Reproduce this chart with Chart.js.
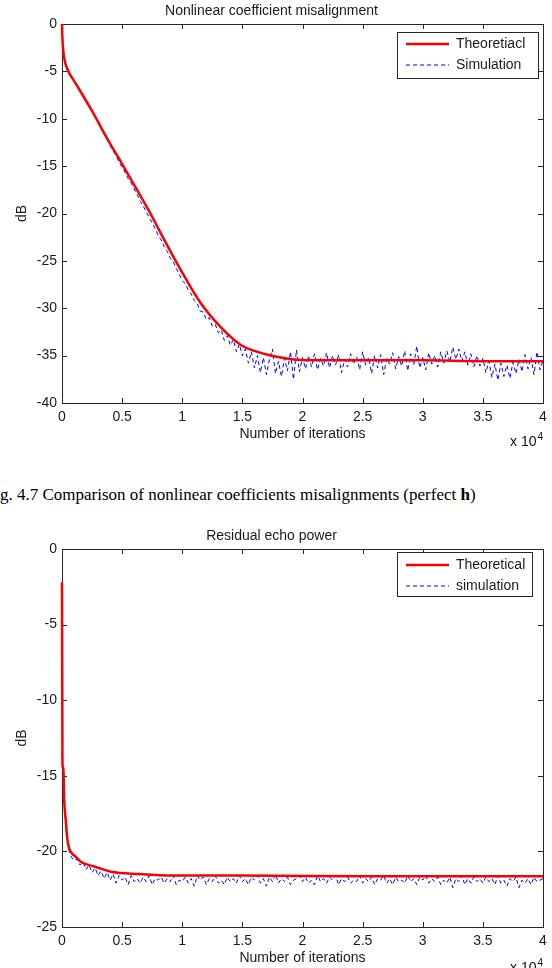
<!DOCTYPE html>
<html>
<head>
<meta charset="utf-8">
<script src="https://cdn.jsdelivr.net/npm/chart.js@4.4.0/dist/chart.umd.min.js"></script>
<style>
    html, body { margin: 0; padding: 0; background: #fff; width: 552px; height: 968px; overflow: hidden; }
    #page { position: relative; width: 552px; height: 968px; }
    canvas { position: absolute; left: 0; }
    #c1 { top: 0; }
    #c2 { top: 515px; }
    .exp { position: absolute; font: 14px "Liberation Sans", Arial, sans-serif; color: #111; line-height: 16px; white-space: nowrap; }
    .exp span { position: relative; top: -6px; font-size: 10px; margin-left: 1px; }
    #caption { position: absolute; left: 0; top: 485px; font: 17px "Liberation Serif", "Times New Roman", serif; line-height: 20px; color: #000; white-space: nowrap; }
</style>
</head>
<body>
<div id="page">
    <canvas id="c1" width="552" height="452"></canvas>
    <div class="exp" style="left:510px;top:433px;">x 10<span>4</span></div>
    <div id="caption">g. 4.7 Comparison of nonlinear coefficients misalignments (perfect <b>h</b>)</div>
    <canvas id="c2" width="552" height="453"></canvas>
    <div class="exp" style="left:510px;top:959px;">x 10<span>4</span></div>
</div>
<script>
// tick labels
var xTicks = [0, 0.5, 1, 1.5, 2, 2.5, 3, 3.5, 4];
var misYTicks = [0, -5, -10, -15, -20, -25, -30, -35, -40];
var echoYTicks = [0, -5, -10, -15, -20, -25];

// common sample grid (x 10^4 iterations) for the simulated curves
var simGrid = [
    0.1, 0.125, 0.15, 0.175, 0.2, 0.225, 0.25, 0.275, 0.3, 0.325, 0.35, 0.375, 0.4, 0.425, 0.45, 0.475,
    0.5, 0.525, 0.55, 0.575, 0.6, 0.625, 0.65, 0.675, 0.7, 0.725, 0.75, 0.775, 0.8, 0.825, 0.85, 0.875, 0.9, 0.925, 0.95, 0.975,
    1.0, 1.025, 1.05, 1.075, 1.1, 1.125, 1.15, 1.175, 1.2, 1.225, 1.25, 1.275, 1.3, 1.325, 1.35, 1.375, 1.4, 1.425, 1.45, 1.475,
    1.5, 1.525, 1.55, 1.575, 1.6, 1.625, 1.65, 1.675, 1.7, 1.725, 1.75, 1.775, 1.8, 1.825, 1.85, 1.875, 1.9, 1.925, 1.95, 1.975,
    2.0, 2.025, 2.05, 2.075, 2.1, 2.125, 2.15, 2.175, 2.2, 2.225, 2.25, 2.275, 2.3, 2.325, 2.35, 2.375, 2.4, 2.425, 2.45, 2.475,
    2.5, 2.525, 2.55, 2.575, 2.6, 2.625, 2.65, 2.675, 2.7, 2.725, 2.75, 2.775, 2.8, 2.825, 2.85, 2.875, 2.9, 2.925, 2.95, 2.975,
    3.0, 3.025, 3.05, 3.075, 3.1, 3.125, 3.15, 3.175, 3.2, 3.225, 3.25, 3.275, 3.3, 3.325, 3.35, 3.375, 3.4, 3.425, 3.45, 3.475,
    3.5, 3.525, 3.55, 3.575, 3.6, 3.625, 3.65, 3.675, 3.7, 3.725, 3.75, 3.775, 3.8, 3.825, 3.85, 3.875, 3.9, 3.925, 3.95, 3.975,
    4.0
];

// Nonlinear coefficient misalignment
var misTheoryX = [0, 0.002, 0.006, 0.017, 0.05, 0.1, 0.134, 0.246, 0.385, 0.497, 0.61, 0.748, 0.818, 0.985, 1.15, 1.32, 1.49, 1.6, 1.71, 1.82, 1.93, 2.16, 2.5, 3, 3.5, 4];
var misTheoryY = [0, -1.0, -2.1, -3.5, -4.9, -6.0, -6.7, -9.1, -12.3, -14.7, -17.2, -20.3, -22.0, -25.9, -29.4, -32.0, -33.9, -34.5, -34.9, -35.2, -35.4, -35.5, -35.5, -35.5, -35.6, -35.6];
var misSimHeadX = [0, 0.002, 0.006, 0.017, 0.05, 0.075];
var misSimHeadY = [0, -1.0, -2.1, -3.6, -5.0, -5.5];
var misSimY = [
    -6.0, -6.5, -7.1, -7.6, -8.1, -8.7, -9.2, -9.8, -10.4, -11.0, -11.6, -12.2, -12.8, -13.4, -13.9, -14.6,
    -15.1, -15.7, -16.3, -16.8, -17.4, -18.0, -18.7, -19.2, -19.8, -20.4, -21.0, -21.6, -22.3, -22.8, -23.5, -24.0, -24.7, -25.1, -25.8, -26.4,
    -27.1, -27.4, -28.1, -28.5, -29.2, -29.5, -30.3, -30.4, -31.2, -31.0, -31.9, -31.7, -32.6, -32.3, -33.4, -32.9, -33.9, -33.3, -34.6, -33.8,
    -35.0, -34.3, -35.8, -34.6, -36.3, -35.0, -36.8, -35.2, -37.0, -35.4, -34.3, -36.9, -35.6, -37.2, -35.3, -36.6, -34.6, -37.5, -34.4, -36.7,
    -35.2, -36.4, -35.0, -36.2, -34.8, -36.5, -35.3, -36.1, -34.7, -36.3, -35.0, -36.0, -34.9, -36.8, -35.4, -36.2, -34.8, -35.9, -35.1, -36.5,
    -34.6, -36.0, -35.2, -36.9, -35.0, -36.3, -34.9, -37.0, -35.3, -35.9, -34.7, -36.4, -35.1, -36.1, -34.5, -36.6, -34.8, -36.0, -34.0, -36.3,
    -35.2, -36.5, -34.7, -35.9, -35.0, -36.2, -34.6, -35.8, -34.5, -35.7, -34.1, -35.4, -34.3, -35.6, -34.6, -36.0, -34.8, -36.2, -35.0, -36.1,
    -35.3, -36.8, -35.6, -37.3, -35.9, -37.6, -35.8, -37.2, -36.0, -37.4, -35.7, -36.9, -35.4, -36.7, -34.9, -36.4, -35.2, -37.0, -34.6, -36.5,
    -35.5
];

// Residual echo power
var echoTheoryX = [0, 0.004, 0.012, 0.018, 0.03, 0.045, 0.06, 0.08, 0.12, 0.16, 0.27, 0.41, 0.64, 0.92, 1.5, 2.5, 4];
var echoTheoryY = [-2.2, -14.3, -14.5, -16.5, -17.8, -19.2, -19.8, -20.1, -20.4, -20.7, -21.0, -21.35, -21.5, -21.6, -21.6, -21.65, -21.65];
var echoSimHeadX = [0, 0.004, 0.01, 0.02, 0.03, 0.045, 0.06, 0.08];
var echoSimHeadY = [-13.4, -14.6, -15.5, -17.0, -18.2, -19.5, -20.0, -20.4];
var echoSimY = [
    -20.6, -20.5, -20.9, -20.7, -21.2, -20.9, -21.4, -21.1, -21.6, -21.3, -21.8, -21.4, -21.9, -21.5, -22.1, -21.6,
    -21.9, -21.7, -22.2, -21.6, -22.0, -21.8, -22.1, -21.7, -22.0, -21.6, -22.2, -21.8, -21.9, -21.7, -22.1, -21.8, -22.0, -21.6, -22.2, -21.9,
    -22.0, -21.7, -22.1, -21.8, -22.3, -21.6, -21.9, -21.7, -22.2, -21.8, -22.0, -21.6, -22.1, -21.9, -22.2, -21.7, -22.0, -21.8, -22.1, -21.6,
    -22.0, -21.8, -22.2, -21.7, -21.9, -21.6, -22.1, -21.8, -22.3, -21.7, -22.0, -21.5, -22.1, -21.8, -22.0, -21.7, -22.2, -21.9, -21.8, -21.6,
    -22.0, -21.7, -22.1, -21.9, -22.2, -21.6, -22.0, -21.8, -22.1, -21.7, -21.9, -21.6, -22.2, -21.8, -22.0, -21.7, -22.1, -21.9, -22.0, -21.6,
    -22.1, -21.8, -22.0, -21.7, -22.2, -21.8, -21.9, -21.6, -22.1, -21.8, -22.2, -21.7, -22.0, -21.9, -22.1, -21.6, -22.0, -21.8, -22.2, -21.7,
    -21.9, -21.6, -22.1, -21.8, -22.0, -21.7, -22.2, -21.9, -22.1, -21.7, -22.4, -21.8, -22.0, -21.6, -22.2, -21.8, -22.1, -21.7, -22.0, -21.8,
    -22.1, -21.7, -22.0, -21.8, -22.2, -21.6, -22.1, -21.9, -22.3, -21.8, -22.0, -21.7, -22.4, -21.9, -22.1, -21.8, -22.2, -21.7, -22.0, -21.9,
    -21.8
];

var FONT = '"Liberation Sans", Arial, sans-serif';
var INK = '#1a1a1a';

function toPoints(xs, ys) {
    return xs.map(function (x, i) { return { x: x, y: ys[i] }; });
}

// box + inward ticks on all four sides (matlab style)
var boxTicks = {
    id: 'boxTicks',
    beforeDatasetsDraw: function (chart) {
        var ctx = chart.ctx, a = chart.chartArea, x = chart.scales.x, y = chart.scales.y;
        var len = 5;
        ctx.save();
        ctx.strokeStyle = '#262626';
        ctx.lineWidth = 1;
        ctx.strokeRect(Math.round(a.left) + 0.5, Math.round(a.top) + 0.5, Math.round(a.right - a.left), Math.round(a.bottom - a.top));
        ctx.beginPath();
        x.ticks.forEach(function (t) {
            var px = Math.round(x.getPixelForValue(t.value)) + 0.5;
            ctx.moveTo(px, a.bottom); ctx.lineTo(px, a.bottom - len);
            ctx.moveTo(px, a.top); ctx.lineTo(px, a.top + len);
        });
        y.ticks.forEach(function (t) {
            var py = Math.round(y.getPixelForValue(t.value)) + 0.5;
            ctx.moveTo(a.left, py); ctx.lineTo(a.left + len, py);
            ctx.moveTo(a.right, py); ctx.lineTo(a.right - len, py);
        });
        ctx.stroke();
        ctx.restore();
    }
};

// legend box inside the plot
var boxLegend = {
    id: 'boxLegend',
    afterDraw: function (chart, args, o) {
        var ctx = chart.ctx;
        ctx.save();
        ctx.fillStyle = '#fff';
        ctx.fillRect(o.x, o.y, o.w, o.h);
        ctx.strokeStyle = '#262626';
        ctx.lineWidth = 1;
        ctx.strokeRect(o.x + 0.5, o.y + 0.5, o.w, o.h);
        chart.data.datasets.forEach(function (ds, i) {
            var cy = o.y + o.rows[i];
            ctx.beginPath();
            ctx.strokeStyle = ds.borderColor;
            ctx.lineWidth = ds.borderWidth;
            ctx.setLineDash(ds.borderDash || []);
            ctx.moveTo(o.x + 9, cy);
            ctx.lineTo(o.x + 52, cy);
            ctx.stroke();
            ctx.setLineDash([]);
            ctx.fillStyle = INK;
            ctx.font = '14px ' + FONT;
            ctx.textBaseline = 'middle';
            ctx.fillText(ds.label, o.x + 59, cy);
        });
        ctx.restore();
    }
};

function makeChart(id, cfg) {
    var canvas = document.getElementById(id);
    return new Chart(canvas, {
        type: 'line',
        data: {
            datasets: [
                {
                    label: cfg.labels[0],
                    data: toPoints(cfg.theoryX, cfg.theoryY),
                    borderColor: 'rgb(250,0,0)',
                    borderWidth: 2.5,
                    pointRadius: 0,
                    cubicInterpolationMode: 'monotone',
                    clip: 4,
                    order: 1
                },
                {
                    label: cfg.labels[1],
                    data: toPoints(cfg.simX, cfg.simY),
                    borderColor: '#0000ff',
                    borderWidth: 1,
                    borderDash: [4, 3],
                    pointRadius: 0,
                    tension: 0,
                    clip: 2,
                    order: 2
                }
            ]
        },
        options: {
            responsive: false,
            animation: false,
            layout: { padding: { left: 0, right: 9, top: 0, bottom: 0 } },
            plugins: {
                legend: { display: false },
                tooltip: { enabled: false },
                title: {
                    display: true,
                    text: cfg.title,
                    color: INK,
                    font: { family: FONT, size: 14, weight: 'normal' },
                    padding: cfg.titlePad
                },
                boxLegend: cfg.legend
            },
            scales: {
                x: {
                    type: 'linear',
                    min: 0, max: 4,
                    grid: { display: false, drawTicks: false },
                    border: { display: false },
                    afterBuildTicks: function (s) { s.ticks = xTicks.map(function (v) { return { value: v }; }); },
                    afterFit: function (s) { s.height = cfg.xHeight; s.paddingLeft = 0; s.paddingRight = 0; },
                    ticks: {
                        color: INK, font: { family: FONT, size: 14 }, padding: 6, maxRotation: 0, autoSkip: false,
                        callback: function (v) { return String(v); }
                    },
                    title: { display: true, text: 'Number of iterations', color: INK, font: { family: FONT, size: 14 }, padding: { top: 0, bottom: cfg.xTitlePad } }
                },
                y: {
                    min: cfg.yTicks[cfg.yTicks.length - 1], max: 0,
                    grid: { display: false, drawTicks: false },
                    border: { display: false },
                    afterBuildTicks: function (s) { s.ticks = cfg.yTicks.map(function (v) { return { value: v }; }); },
                    afterFit: function (s) { s.width = 62; },
                    ticks: {
                        color: INK, font: { family: FONT, size: 14 }, padding: 5, autoSkip: false,
                        callback: function (v) { return String(v); }
                    },
                    title: { display: true, text: 'dB', color: INK, font: { family: FONT, size: 14 }, padding: { top: 13.6, bottom: 0 } }
                }
            }
        },
        plugins: [boxTicks, boxLegend]
    });
}

makeChart('c1', {
    title: 'Nonlinear coefficient misalignment',
    labels: ['Theoretiacl', 'Simulation'],
    theoryX: misTheoryX, theoryY: misTheoryY,
    simX: misSimHeadX.concat(simGrid), simY: misSimHeadY.concat(misSimY),
    yTicks: misYTicks,
    titlePad: { top: 3, bottom: 4.2 },
    xHeight: 49, xTitlePad: 9.6,
    legend: { x: 397, y: 32, w: 141, h: 46, rows: [12, 33] }
});

makeChart('c2', {
    title: 'Residual echo power',
    labels: ['Theoretical', 'simulation'],
    theoryX: echoTheoryX, theoryY: echoTheoryY,
    simX: echoSimHeadX.concat(simGrid), simY: echoSimHeadY.concat(echoSimY),
    yTicks: echoYTicks,
    titlePad: { top: 13, bottom: 4.2 },
    xHeight: 41, xTitlePad: 1.6,
    legend: { x: 397, y: 37, w: 135, h: 44, rows: [13, 34] }
});
</script>
</body>
</html>
